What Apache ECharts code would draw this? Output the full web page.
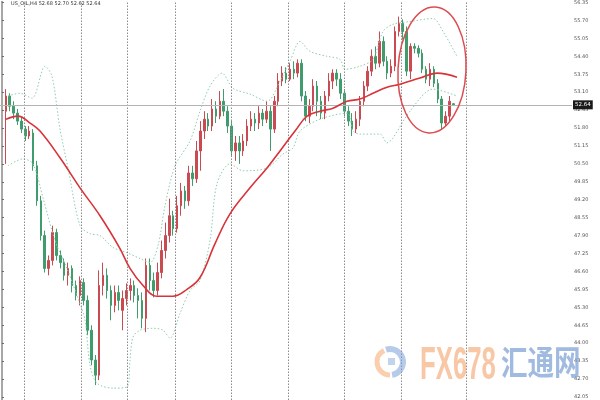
<!DOCTYPE html>
<html><head><meta charset="utf-8">
<script src="https://cdn.jsdelivr.net/npm/echarts@6/dist/echarts.min.js"></script>
<style>html,body{margin:0;padding:0;background:#fff}#c{width:600px;height:400px}</style>
</head><body><div id="c"></div><script>
const title = 'US_OIL,H4 52.68 52.70 52.62 52.64';
const lastPrice = 52.64;
const yTicks = [56.35,55.70,55.05,54.40,53.75,53.10,52.45,51.80,51.15,50.50,49.85,49.20,48.55,47.90,47.25,46.60,45.95,45.30,44.65,44.00,43.35,42.70,42.05];
// [open, close, low, high]
const candles = [
[52.41,52.96,50.50,53.21],[52.96,52.59,52.41,53.06],[52.59,52.34,52.12,52.77],[52.34,52.05,51.91,52.49],
[52.05,51.76,51.62,52.20],[51.76,51.51,51.33,51.87],[51.51,51.69,51.40,51.87],[51.62,50.43,50.25,51.76],
[50.43,49.16,48.98,50.61],[49.16,47.90,47.72,49.34],[47.90,46.71,46.56,48.08],[46.71,47.00,46.46,47.18],
[47.00,48.01,46.82,48.26],[48.01,47.18,47.00,48.15],[47.18,46.92,46.71,47.36],[46.92,46.46,46.27,47.07],
[46.46,46.71,46.09,46.92],[46.71,46.09,45.84,46.82],[46.09,45.73,45.55,46.27],[45.73,46.27,45.37,46.42],
[46.20,45.55,45.37,46.35],[45.55,44.47,44.29,45.73],[44.47,43.39,43.20,44.65],[43.39,42.84,42.48,43.57],
[42.84,46.09,42.66,46.64],[46.09,46.46,45.73,46.92],[46.46,45.91,45.62,46.71],[45.91,45.37,44.83,46.09],
[45.37,45.84,45.12,46.09],[45.84,45.55,45.19,46.09],[45.19,45.62,44.47,45.91],[45.62,45.91,45.37,46.17],
[45.91,46.09,45.55,46.35],[46.09,45.73,45.48,46.27],[45.73,45.55,44.90,45.99],[45.55,44.90,44.54,45.84],
[44.90,46.82,44.40,47.07],[46.82,46.27,45.91,47.07],[46.27,45.91,45.66,46.56],[45.91,46.56,45.73,46.92],
[46.56,47.36,46.35,47.72],[47.36,47.90,47.07,48.37],[47.90,48.62,47.65,49.24],[48.62,48.15,47.90,48.80],
[48.15,48.98,48.01,49.34],[48.98,49.52,48.62,49.81],[49.52,49.16,48.87,49.70],[49.16,50.17,48.98,50.43],
[50.17,49.96,49.70,50.43],[49.96,50.97,49.81,51.33],[50.97,51.69,50.25,52.05],[51.69,52.12,51.40,52.41],
[52.12,51.87,51.69,52.34],[51.87,52.49,51.69,52.85],[52.49,52.23,51.98,52.77],[52.23,52.77,52.12,53.14],
[52.77,52.41,52.23,53.21],[52.41,51.87,51.62,52.59],[51.87,50.97,50.79,52.05],[50.97,51.26,50.61,51.51],
[51.26,50.97,50.50,51.51],[50.97,51.33,50.79,51.58],[51.33,51.87,51.15,52.12],[51.87,52.12,51.69,52.41],
[52.12,51.98,51.69,52.34],[51.98,52.34,51.76,52.59],[52.34,52.12,51.87,52.49],[52.12,52.41,51.98,52.77],
[52.41,51.76,50.97,52.59],[51.76,52.77,51.62,52.96],[52.77,53.50,52.59,53.79],[53.50,53.79,53.32,54.04],
[53.79,53.57,53.42,54.00],[53.57,53.93,53.50,54.15],[53.93,53.79,53.57,54.22],[53.79,54.15,53.64,54.29],
[54.15,52.96,52.77,54.29],[52.96,52.23,52.05,53.14],[52.23,52.59,51.98,52.85],[52.59,53.32,52.41,53.57],
[53.32,52.77,52.23,53.50],[52.77,52.34,52.12,52.96],[52.34,52.96,52.12,53.14],[52.96,53.50,52.77,53.79],
[53.50,53.79,53.21,53.93],[53.79,53.57,53.32,53.93],[53.57,53.06,52.85,53.79],[53.06,52.41,52.23,53.21],
[52.41,52.05,51.87,52.59],[52.05,51.76,51.51,52.34],[51.76,52.12,51.62,52.41],[52.12,52.77,51.87,52.96],
[52.77,53.32,52.59,53.50],[53.32,53.86,53.14,54.04],[53.86,54.40,53.68,54.65],[54.40,54.15,53.93,54.76],
[54.15,54.94,54.00,55.30],[54.94,54.22,54.04,55.12],[54.22,53.79,53.57,54.40],[53.79,54.04,53.64,54.29],
[54.04,55.30,53.86,55.48],[55.30,55.59,55.12,55.84],[55.59,55.30,55.01,55.74],[55.30,53.86,53.68,55.48],
[53.86,54.76,53.57,54.87],[54.76,54.69,54.51,54.87],[54.69,54.51,54.36,54.80],[54.51,53.93,53.79,54.65],
[53.93,53.57,53.42,54.04],[53.57,53.93,53.32,54.15],[53.93,53.42,53.28,54.04],[53.42,52.85,52.70,53.57],
[52.85,51.98,51.76,52.96],[51.98,52.23,51.84,52.41],[52.23,52.77,52.05,52.96],[52.68,52.64,52.62,52.70]
];
const leadBars = 1, totalBars = 147;
// [bar position, price]
const maLine = [[1.04,52.12],[4.13,52.23],[7.21,51.98],[9.78,51.69],[14.92,50.72],[20.06,49.63],[25.2,48.62],[30.34,47.43],[32.91,46.71],[36.25,46.09],[39.85,45.70],[43.96,45.70],[47.56,45.95],[50.9,46.38],[54.76,47.61],[58.61,48.69],[63.75,49.63],[68.12,50.35],[71.46,50.97],[75.32,51.69],[78.4,52.23],[81.74,52.41],[85.08,52.52],[88.68,52.77],[92.02,52.85],[95.36,53.06],[98.96,53.28],[102.3,53.39],[107.44,53.61],[111.81,53.79],[116.95,53.64]];
const upperBand = [[1.56,52.96],[4.64,53.06],[7.72,52.88],[11.07,54.04],[12.86,53.68],[14.92,51.76],[16.98,50.35],[20.06,48.26],[22.63,47.97],[25.2,47.90],[28.54,47.47],[32.14,47.28],[35.48,47.07],[38.05,46.92],[40.11,47.54],[41.9,48.98],[44.48,50.43],[48.33,51.33],[50.9,52.41],[53.47,53.32],[56.55,53.79],[59.38,53.24],[63.75,53.03],[68.12,52.77],[71.46,53.50],[74.03,54.22],[76.6,54.94],[79.17,54.58],[83.54,54.40],[86.88,54.29],[88.17,53.93],[92.02,54.04],[95.36,54.29],[97.93,55.30],[100.5,55.56],[104.87,55.66],[110.78,55.77],[113.35,55.30],[116.95,54.40]];
const lowerBand = [[1.56,50.43],[5.41,50.68],[7.98,50.50],[10.55,49.27],[13.64,47.72],[16.72,46.71],[19.29,45.73],[21.35,44.83],[22.63,43.20],[24.43,42.55],[28.54,42.37],[32.14,42.41],[32.91,43.39],[33.68,44.22],[35.48,44.47],[38.82,44.54],[41.39,44.47],[43.19,44.18],[45.76,45.08],[48.33,45.91],[50.9,46.27],[53.47,47.72],[55.27,49.78],[58.61,50.50],[61.95,50.25],[68.12,50.35],[72.23,50.86],[74.8,51.08],[76.6,51.69],[81.74,52.12],[88.68,52.34],[90.22,51.69],[92.02,51.58],[97.16,51.58],[98.96,51.26],[100.5,51.44],[104.87,52.41],[110.78,53.21],[116.95,52.96]];
const separators = [5.67,20.3,32.1,44.5,58.9,73.5,87.9,102.6,119.3];

const cats = [];
for (let i = 0; i < totalBars; i++) cats.push(String(i));
const kData = [];
for (let i = 0; i < totalBars; i++) {
  const j = i - leadBars;
  kData.push(j >= 0 && j < candles.length ? candles[j] : '-');
}
const chart = echarts.init(document.getElementById('c'), null, {renderer: 'canvas'});
const bandStyle = {color: '#8fcdae', width: 1, type: [1.5, 2]};
chart.setOption({
  animation: false,
  backgroundColor: '#ffffff',
  grid: {left: 0, right: 28, top: 0, bottom: 0},
  xAxis: [
    {type: 'category', data: cats, boundaryGap: true, show: false},
    {type: 'value', min: -0.5, max: totalBars - 0.5, show: false}
  ],
  yAxis: {
    type: 'value', position: 'right', min: 41.94, max: 56.386, scale: true,
    splitLine: {show: false},
    axisLine: {show: true, lineStyle: {color: '#8a8a8a', width: 1.5}},
    axisTick: {show: true, length: 2, lineStyle: {color: '#666'}, customValues: yTicks},
    axisLabel: {fontSize: 5, color: '#555', margin: 2, fontFamily: 'DejaVu Sans',
      customValues: yTicks, formatter: v => v.toFixed(2)}
  },
  series: [
    {type: 'line', xAxisIndex: 1, data: [], silent: true,
      markLine: {symbol: 'none', silent: true, animation: false,
        lineStyle: {color: '#8c8c8c', width: 1, type: [1.5, 1.5]}, label: {show: false},
        data: separators.map(v => ({xAxis: v}))}},
    {type: 'line', xAxisIndex: 1, data: [], silent: true,
      markLine: {symbol: 'none', silent: true, animation: false,
        lineStyle: {color: '#b4b4b4', width: 1, type: 'solid'},
        label: {show: true, position: 'end', formatter: lastPrice.toFixed(2), color: '#fff',
          backgroundColor: '#1a1a1a', fontSize: 5.5, padding: [2, 2, 1, 2], distance: 1, fontFamily: 'DejaVu Sans'},
        data: [{yAxis: lastPrice}]}},
    {type: 'line', xAxisIndex: 1, data: upperBand, smooth: 0.3, symbol: 'none', lineStyle: bandStyle, silent: true},
    {type: 'line', xAxisIndex: 1, data: lowerBand, smooth: 0.3, symbol: 'none', lineStyle: bandStyle, silent: true},
    {type: 'candlestick', xAxisIndex: 0, data: kData, barWidth: 2,
      itemStyle: {color: '#c94a50', color0: '#3f9c6c', borderColor: '#c94a50', borderColor0: '#3f9c6c', borderWidth: 1}},
    {type: 'line', xAxisIndex: 1, data: maLine, smooth: 0.4, symbol: 'none',
      lineStyle: {color: '#d8333a', width: 1.6}, silent: true, z: 5}
  ],
  graphic: [
    {type: 'text', left: 11, top: 1, style: {text: title, fontSize: 5, fill: '#333', fontFamily: 'DejaVu Sans'}},
    {type: 'ellipse', shape: {cx: 432, cy: 70, rx: 34, ry: 63}, rotation: -0.05, originX: 432, originY: 70,
      style: {fill: 'none', stroke: '#dc4b50', lineWidth: 1.5}, z: 10},
    {type: 'arc', shape: {cx: 390, cy: 362, r: 13, startAngle: -Math.PI * 0.6, endAngle: Math.PI * 0.45},
      style: {stroke: 'rgba(120,160,215,0.55)', lineWidth: 6, fill: 'none'}, z: 20},
    {type: 'arc', shape: {cx: 390, cy: 362, r: 13, startAngle: Math.PI * 0.5, endAngle: Math.PI * 1.35},
      style: {stroke: 'rgba(245,165,110,0.55)', lineWidth: 5, fill: 'none'}, z: 20},
    {type: 'rect', shape: {x: 388, y: 358, width: 7, height: 7}, style: {fill: 'rgba(120,160,215,0.45)'}, z: 20},
    {type: 'text', x: 420, y: 343, scaleX: 0.56, z: 20,
      style: {text: 'FX678', font: 'bold 46px "Liberation Sans"', fill: 'rgba(245,178,130,0.72)'}},
    {type: 'text', x: 501, y: 345, scaleX: 0.78, z: 20,
      style: {text: '汇通网', font: 'bold 34px "Noto Sans CJK SC"', fill: 'rgba(125,160,212,0.72)'}}
  ]
});
</script></body></html>
